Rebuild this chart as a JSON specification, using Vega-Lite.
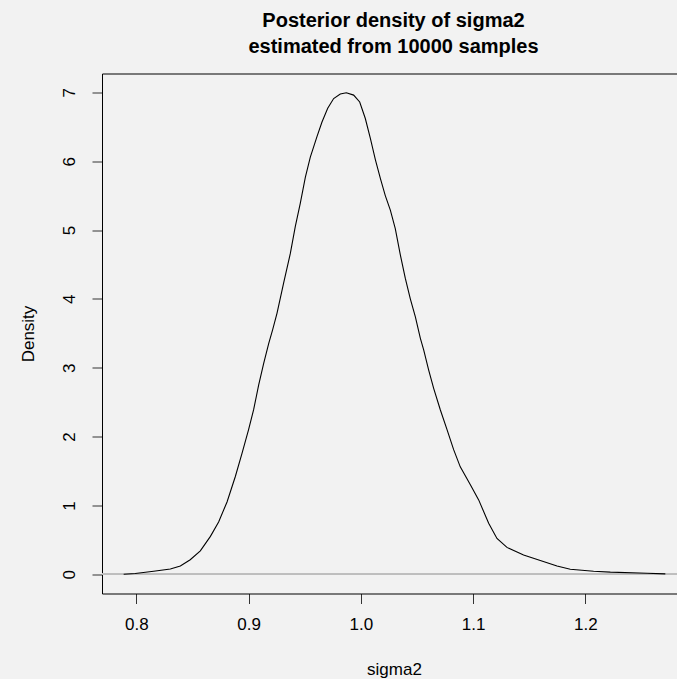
{
  "$schema": "https://vega.github.io/schema/vega-lite/v6.json",
  "autosize": {"type": "none"},
  "width": 575,
  "height": 520,
  "padding": {"left": 102, "top": 73.5, "right": 0, "bottom": 85.5},
  "background": "#f2f2f2",
  "config": {
    "view": {"stroke": null},
    "font": "Liberation Sans",
    "axis": {"grid": false, "domainColor": "#000000", "domainWidth": 1, "tickColor": "#333333", "tickWidth": 1, "labelColor": "#000000", "titleColor": "#000000", "labelFont": "Liberation Sans", "titleFont": "Liberation Sans", "labelFontSize": 17, "titleFontSize": 17, "titleFontWeight": "normal"}
  },
  "title": {
    "text": ["Posterior density of sigma2", "estimated from 10000 samples"],
    "font": "Liberation Sans",
    "fontSize": 20,
    "fontWeight": "bold",
    "color": "#000000",
    "lineHeight": 25.5,
    "anchor": "middle",
    "offset": 17,
    "dx": 4
  },
  "data": {
    "values": [
      {"sigma2": 0.7887, "density": 0},
      {"sigma2": 0.799, "density": 0.01},
      {"sigma2": 0.8154, "density": 0.044},
      {"sigma2": 0.8303, "density": 0.077},
      {"sigma2": 0.8392, "density": 0.12},
      {"sigma2": 0.848, "density": 0.21},
      {"sigma2": 0.857, "density": 0.34},
      {"sigma2": 0.866, "density": 0.55},
      {"sigma2": 0.8733, "density": 0.76},
      {"sigma2": 0.8808, "density": 1.05},
      {"sigma2": 0.8882, "density": 1.42},
      {"sigma2": 0.8942, "density": 1.76},
      {"sigma2": 0.9, "density": 2.1},
      {"sigma2": 0.9045, "density": 2.39},
      {"sigma2": 0.909, "density": 2.75},
      {"sigma2": 0.9134, "density": 3.06},
      {"sigma2": 0.9179, "density": 3.35},
      {"sigma2": 0.9214, "density": 3.55},
      {"sigma2": 0.9253, "density": 3.79},
      {"sigma2": 0.9312, "density": 4.23},
      {"sigma2": 0.9372, "density": 4.66},
      {"sigma2": 0.9416, "density": 5.05},
      {"sigma2": 0.9461, "density": 5.39},
      {"sigma2": 0.9506, "density": 5.77},
      {"sigma2": 0.955, "density": 6.06},
      {"sigma2": 0.961, "density": 6.36},
      {"sigma2": 0.9654, "density": 6.57},
      {"sigma2": 0.9705, "density": 6.77},
      {"sigma2": 0.9758, "density": 6.91},
      {"sigma2": 0.9817, "density": 6.975},
      {"sigma2": 0.9871, "density": 6.994},
      {"sigma2": 0.9936, "density": 6.96},
      {"sigma2": 0.999, "density": 6.86},
      {"sigma2": 1.004, "density": 6.62},
      {"sigma2": 1.0085, "density": 6.33},
      {"sigma2": 1.013, "density": 6.02},
      {"sigma2": 1.0174, "density": 5.75},
      {"sigma2": 1.0218, "density": 5.5},
      {"sigma2": 1.0263, "density": 5.29},
      {"sigma2": 1.0307, "density": 5.02},
      {"sigma2": 1.0352, "density": 4.64},
      {"sigma2": 1.0396, "density": 4.3},
      {"sigma2": 1.0441, "density": 4.0},
      {"sigma2": 1.0486, "density": 3.74},
      {"sigma2": 1.053, "density": 3.43},
      {"sigma2": 1.056, "density": 3.26},
      {"sigma2": 1.0604, "density": 2.97},
      {"sigma2": 1.0649, "density": 2.7},
      {"sigma2": 1.0708, "density": 2.39},
      {"sigma2": 1.0768, "density": 2.1},
      {"sigma2": 1.0827, "density": 1.81},
      {"sigma2": 1.0886, "density": 1.56},
      {"sigma2": 1.0976, "density": 1.3},
      {"sigma2": 1.105, "density": 1.08},
      {"sigma2": 1.1139, "density": 0.74},
      {"sigma2": 1.1213, "density": 0.52},
      {"sigma2": 1.1302, "density": 0.39},
      {"sigma2": 1.145, "density": 0.28},
      {"sigma2": 1.1599, "density": 0.2},
      {"sigma2": 1.1748, "density": 0.12},
      {"sigma2": 1.1866, "density": 0.073},
      {"sigma2": 1.2074, "density": 0.044},
      {"sigma2": 1.2223, "density": 0.03},
      {"sigma2": 1.255, "density": 0.015},
      {"sigma2": 1.2713, "density": 0.005}
    ]
  },
  "resolve": {"axis": {"x": "independent"}},
  "layer": [
    {
      "mark": {"type": "rule", "color": "#bebebe", "strokeWidth": 1},
      "encoding": {
        "y": {"datum": 0, "type": "quantitative", "scale": {"domain": [-0.2798, 7.2738], "nice": false, "zero": false}}
      }
    },
    {
      "mark": {"type": "line", "color": "#000000", "strokeWidth": 1.1, "clip": true},
      "encoding": {
        "x": {
          "field": "sigma2", "type": "quantitative",
          "scale": {"domain": [0.7694, 1.2817], "nice": false, "zero": false},
          "axis": {"orient": "bottom", "values": [0.8, 0.9, 1.0, 1.1, 1.2], "format": ".1f", "tickSize": 10, "labelPadding": 13, "title": "sigma2", "titlePadding": 29, "titleX": 292, "titleAlign": "center"}
        },
        "y": {
          "field": "density", "type": "quantitative",
          "scale": {"domain": [-0.2798, 7.2738], "nice": false, "zero": false},
          "axis": {"values": [0, 1, 2, 3, 4, 5, 6, 7], "format": "d", "labelAngle": 270, "tickSize": 10, "labelPadding": 14, "title": "Density", "titlePadding": 23}
        }
      }
    },
    {
      "mark": {"type": "line", "opacity": 0},
      "encoding": {
        "x": {
          "field": "sigma2", "type": "quantitative",
          "axis": {"orient": "top", "labels": false, "ticks": false, "title": null, "domain": true}
        },
        "y": {"field": "density", "type": "quantitative"}
      }
    }
  ]
}
